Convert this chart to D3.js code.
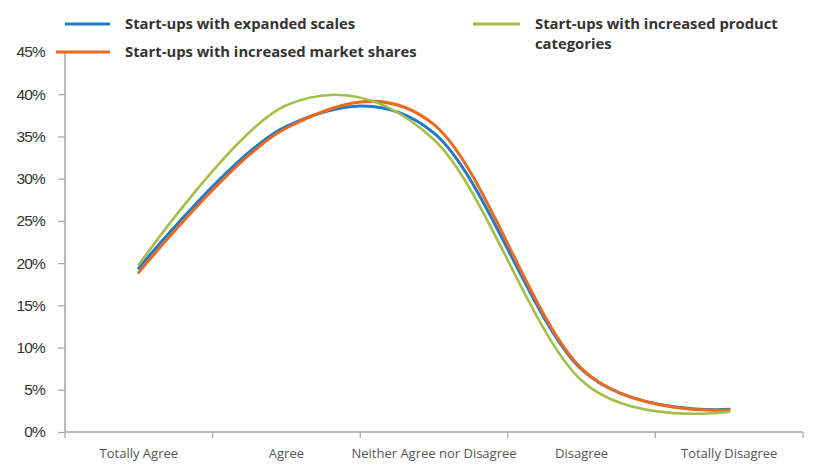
<!DOCTYPE html>
<html>
<head>
<meta charset="utf-8">
<script src="https://cdn.jsdelivr.net/npm/d3@7/dist/d3.min.js"></script>
<style>
  html, body { margin: 0; padding: 0; background: #fff; }
  svg { display: block; }
</style>
</head>
<body>
<svg id="chart" width="818" height="464"></svg>
<script>
const categories = ["Totally Agree", "Agree", "Neither Agree nor Disagree", "Disagree", "Totally Disagree"];
const seriesNames = ["Start-ups with expanded scales", "Start-ups with increased market shares", "Start-ups with increased product categories"];
const expandedScales = [0.194, 0.362, 0.354, 0.074, 0.027];
const marketShares   = [0.189, 0.360, 0.364, 0.075, 0.026];
const productCats    = [0.198, 0.387, 0.346, 0.061, 0.024];
const yTicks = [0, 0.05, 0.10, 0.15, 0.20, 0.25, 0.30, 0.35, 0.40, 0.45];
const colors = ["#1f7bc6", "#ec6a1f", "#a3bf4a"];

const svg = d3.select("#chart");
const x = d3.scaleBand().domain(categories).range([65, 803]).padding(0);
const y = d3.scaleLinear().domain([0, 0.45]).range([432, 52]);
const axisColor = "#a6a6a6";

// Y axis
const yAxis = svg.append("g").attr("transform", "translate(65,0)")
  .call(d3.axisLeft(y).tickValues(yTicks).tickFormat(d3.format(".0%")).tickSize(7).tickPadding(13));
yAxis.select(".domain").attr("stroke", axisColor).attr("stroke-width", 1.5).attr("d", `M0,${y(0)}V${y(0.45)}`);
yAxis.selectAll(".tick line").attr("stroke", axisColor).attr("stroke-width", 1.2);
yAxis.selectAll(".tick text").attr("fill", "#333").style("font-family", "Liberation Sans, Arial, sans-serif")
  .style("font-size", "15.5px").style("letter-spacing", "-0.8px");

// X axis: labels at band centres, ticks at band boundaries
const xAxis = svg.append("g").attr("transform", `translate(0,${y(0)})`)
  .call(d3.axisBottom(x).tickSize(0).tickPadding(17));
xAxis.select(".domain").attr("stroke", axisColor).attr("stroke-width", 1.5).attr("d", `M${x.range()[0]},0H${x.range()[1]}`);
xAxis.selectAll(".tick text").attr("fill", "#555").style("font-family", "Open Sans, sans-serif").style("font-size", "13px");
const bounds = categories.map(c => x(c)).concat([x(categories[categories.length - 1]) + x.bandwidth()]);
xAxis.selectAll(".bnd").data(bounds).enter().append("line").attr("class", "bnd")
  .attr("x1", d => d).attr("x2", d => d).attr("y1", 0).attr("y2", 6)
  .attr("stroke", axisColor).attr("stroke-width", 1.2);

// Lines
const allSeries = [expandedScales, marketShares, productCats];
const line = d3.line()
  .x((d, i) => x(categories[i]) + x.bandwidth() / 2)
  .y(d => y(d))
  .curve(d3.curveCardinal.tension(0));
allSeries.forEach((s, k) => {
  svg.append("path").datum(s).attr("d", line).attr("fill", "none")
    .attr("stroke", colors[k]).attr("stroke-width", k === 2 ? 2.6 : 3).attr("stroke-linecap", "round");
});

// Legend
const legend = [
  { x1: 65, x2: 110, y: 24, tx: 125, lines: [seriesNames[0]] },
  { x1: 56, x2: 110, y: 52, tx: 125, lines: [seriesNames[1]] },
  { x1: 473, x2: 520, y: 24, tx: 535, lines: ["Start-ups with increased product", "categories"] }
];
legend.forEach((l, k) => {
  svg.append("line").attr("x1", l.x1).attr("x2", l.x2).attr("y1", l.y).attr("y2", l.y)
    .attr("stroke", colors[k]).attr("stroke-width", 3);
  const t = svg.append("text").attr("x", l.tx).attr("y", l.y)
    .attr("fill", "#333").style("font-family", "Open Sans, sans-serif")
    .style("font-size", "14.8px").style("font-weight", "bold");
  l.lines.forEach((s, j) => {
    t.append("tspan").attr("x", l.tx).attr("dy", j === 0 ? "0.35em" : "20px").text(s);
  });
});
</script>
</body>
</html>
